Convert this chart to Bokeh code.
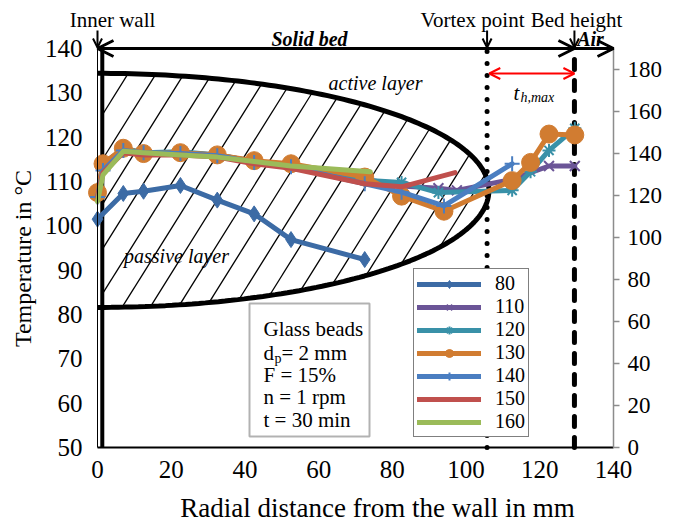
import numpy as np
from bokeh.plotting import figure
from bokeh.models import (Range1d, LinearAxis, FixedTicker, Legend, LegendItem,
                          Label, Arrow, OpenHead, BoxAnnotation)
from bokeh.embed import file_html
from bokeh.resources import INLINE

# ---------------- data ----------------
series_names = ["80", "110", "120", "130", "140", "150", "160"]
x_80 = [0, 7, 12.5, 22.5, 32.5, 42.5, 52.5, 72.5]
t_80 = [101.5, 107.3, 107.8, 109.1, 105.8, 102.7, 96.9, 92.4]
x_110 = [0, 1.5, 7, 12.5, 22.5, 32.5, 42.5, 52.5, 72.5, 82.5, 92.5, 97.5, 112.5, 122.5, 129.5]
t_110 = [107.5, 114.0, 117.3, 116.3, 116.5, 116.0, 114.5, 113.5, 110.5, 109.0, 108.5, 108.0, 110.5, 113.5, 113.5]
x_120 = [0, 1.5, 7, 12.5, 22.5, 32.5, 42.5, 52.5, 72.5, 82.5, 92.5, 112.5, 117.5, 122.5, 129.5]
t_120 = [107.0, 113.5, 117.5, 116.5, 116.7, 116.0, 114.5, 113.5, 110.3, 109.8, 107.5, 108.0, 112.2, 117.0, 122.0]
x_130 = [0, 1.5, 7, 12.5, 22.5, 32.5, 42.5, 52.5, 72.5, 82.5, 94, 112.5, 117.5, 122.5, 129.5]
t_130 = [107.5, 114.0, 117.5, 116.3, 116.5, 116.0, 114.7, 114.0, 111.0, 106.7, 103.3, 110.2, 114.3, 120.7, 120.5]
x_140 = [0, 1.5, 7, 12.5, 22.5, 32.5, 42.5, 52.5, 72.5, 82.5, 94, 112.5]
t_140 = [106.5, 112.5, 117.0, 116.5, 116.3, 115.8, 114.3, 113.3, 109.5, 107.6, 104.5, 114.0]
x_150 = [0, 1.5, 7, 12.5, 22.5, 32.5, 42.5, 52.5, 72.5, 82.5, 97]
t_150 = [106.5, 112.0, 116.5, 116.0, 116.0, 115.5, 114.0, 113.0, 109.5, 108.8, 112.0]
x_160 = [0, 1.5, 7, 12.5, 22.5, 32.5, 42.5, 52.5, 74]
t_160 = [105.5, 111.5, 116.8, 116.5, 116.0, 115.5, 114.5, 113.5, 112.2]

x_ticks = [0, 20, 40, 60, 80, 100, 120, 140]
y_ticks = [50, 60, 70, 80, 90, 100, 110, 120, 130, 140]
y2_ticks = [0, 20, 40, 60, 80, 100, 120, 140, 160, 180]

# landmarks (mm / degC)
vortex_x = 105.7
bed_x = 129.4
wall_x = 1.3
ell_cx, ell_cy, ell_a, ell_b = 0.0, 108.0, 106.2, 26.4

FONT = "Liberation Serif"
INK = "black"
W, H = 681, 521
L, R, T, B = 97, 613, 48, 447          # plot-area edges in pixels
sx = (R - L) / 140.0
sy = (B - T) / 90.0
y2_max = 190.0
sy2 = (B - T) / y2_max


def X(px):
    return (px - L) / sx


def Y(py):
    return 140 - (py - T) / sy


def Y2(py):
    return (B - py) / sy2


def label(px, py, text, size="21px", style="normal", align="left", **kw):
    p.add_layout(Label(x=X(px), y=Y(py), text=text, text_font=FONT, text_font_size=size,
                       text_font_style=style, text_align=align, text_baseline="middle",
                       text_color=INK, **kw))


# the frame covers the whole canvas; axes are pinned at the plot-area edges
p = figure(width=W, height=H, x_range=Range1d(X(0), X(W)), y_range=Range1d(Y(H), Y(0)),
           output_backend="svg", toolbar_location=None,
           min_border_left=0, min_border_right=0, min_border_top=0, min_border_bottom=0)
p.outline_line_color = None
p.xgrid.visible = False
p.ygrid.visible = False
p.background_fill_color = "white"
p.border_fill_color = "white"

p.extra_y_ranges = {"sec": Range1d(Y2(H), Y2(0))}

# axes
xa = p.xaxis[0]
xa.fixed_location = 50
xa.bounds = (0, 140)
xa.ticker = FixedTicker(ticks=x_ticks)
xa.axis_line_color = "black"
xa.axis_line_width = 2
xa.major_tick_line_color = None
xa.minor_tick_line_color = None
xa.major_label_text_font = FONT
xa.major_label_text_font_size = "25px"
xa.major_label_text_color = INK
xa.major_label_standoff = 7

ya = p.yaxis[0]
ya.fixed_location = 0
ya.bounds = (50, 140)
ya.ticker = FixedTicker(ticks=y_ticks)
ya.axis_line_color = "black"
ya.axis_line_width = 1
ya.major_tick_line_color = None
ya.minor_tick_line_color = None
ya.major_label_text_font = FONT
ya.major_label_text_font_size = "25px"
ya.major_label_text_color = INK
ya.major_label_standoff = 9

ya2 = LinearAxis(y_range_name="sec", ticker=FixedTicker(ticks=y2_ticks), bounds=(0, y2_max),
                 fixed_location=140)
ya2.axis_line_color = "#8c8c8c"
ya2.axis_line_width = 1.5
ya2.major_tick_line_color = "#8c8c8c"
ya2.major_tick_line_width = 1.5
ya2.major_tick_out = 6
ya2.major_tick_in = 0
ya2.minor_tick_line_color = None
ya2.major_label_text_font = FONT
ya2.major_label_text_font_size = "23px"
ya2.major_label_text_color = INK
ya2.major_label_standoff = 8
p.add_layout(ya2, "right")

# hatching inside the half-ellipse
dxd, dyd = 1.0 / sx, 1.6 / sy
spacing = 28.0 / sx
hx0, hy0, hx1, hy1 = [], [], [], []
for k in range(-14, 16):
    x0 = 26.5 + k * spacing
    a = dxd ** 2 / ell_a ** 2 + dyd ** 2 / ell_b ** 2
    b = 2 * (x0 - ell_cx) * dxd / ell_a ** 2
    c = (x0 - ell_cx) ** 2 / ell_a ** 2 - 1
    disc = b * b - 4 * a * c
    if disc <= 0:
        continue
    s1 = (-b - np.sqrt(disc)) / (2 * a)
    s2 = (-b + np.sqrt(disc)) / (2 * a)
    xa0, ya0 = x0 + s1 * dxd, ell_cy + s1 * dyd
    xa1, ya1 = x0 + s2 * dxd, ell_cy + s2 * dyd
    if xa1 <= wall_x:
        continue
    if xa0 < wall_x:      # clip at the inner wall
        t = (wall_x - xa0) / (xa1 - xa0)
        ya0 = ya0 + t * (ya1 - ya0)
        xa0 = wall_x
    hx0.append(xa0); hy0.append(ya0); hx1.append(xa1); hy1.append(ya1)
p.segment(hx0, hy0, hx1, hy1, line_color="black", line_width=1.3)

# half ellipse (right half only)
th = np.linspace(-np.pi / 2, np.pi / 2, 181)
p.line(ell_cx + ell_a * np.cos(th), ell_cy + ell_b * np.sin(th), line_color="black", line_width=5)

# wall / vortex / bed height lines
p.line([wall_x, wall_x], [50, 140], line_color="black", line_width=4)
p.line([vortex_x, vortex_x], [50, 140], line_color="black", line_width=5,
       line_dash="0 12", line_cap="round")
p.line([bed_x, bed_x], [50, 140], line_color="black", line_width=5,
       line_dash="10 11", line_cap="round")

# data series
colors = ["#3c6ba5", "#6b5597", "#3991a8", "#d17c31", "#4a7ec1", "#c0504d", "#9bbb59"]
xs = [x_80, x_110, x_120, x_130, x_140, x_150, x_160]
ts = [t_80, t_110, t_120, t_130, t_140, t_150, t_160]
markers = ["diamond", "x", "asterisk", "circle", "cross", None, None]
msizes = [16, 14, 13, 18, 15, 0, 0]
items = []
for name, xv, tv, col, mk, ms in zip(series_names, xs, ts, colors, markers, msizes):
    rends = [p.line(xv, tv, line_color=col, line_width=5, line_join="round", line_cap="round")]
    if mk is not None:
        if mk in ("diamond", "circle"):
            rends.append(p.scatter(xv, tv, marker=mk, size=ms, fill_color=col, line_color=col))
        else:
            rends.append(p.scatter(xv, tv, marker=mk, size=ms, line_color=col, line_width=2))
    items.append(LegendItem(label=name, renderers=rends))

legend = Legend(items=items, location=(413, H - 437))
legend.border_line_color = "black"
legend.border_line_width = 1.5
legend.background_fill_color = "white"
legend.background_fill_alpha = 1
legend.padding = 3
legend.spacing = 0
legend.margin = 0
legend.glyph_width = 64
legend.glyph_height = 20
legend.label_height = 20
legend.label_standoff = 14
legend.label_text_font = FONT
legend.label_text_font_size = "20px"
legend.label_text_color = INK
p.add_layout(legend)

# axis titles
label(377, 507, "Radial distance from the wall in mm", size="27px", align="center")
label(22, 258, "Temperature in °C", size="24px", align="center", angle=np.pi / 2)

# text box
p.add_layout(BoxAnnotation(left=X(249), right=X(369), top=Y(303), bottom=Y(436),
                           fill_color="white", fill_alpha=1, line_color="black", line_width=2))
label(263, 328, "Glass beads")
label(263, 352, "d")
p.add_layout(Label(x=X(263), y=Y(352), x_offset=11, y_offset=-6, text="p", text_font=FONT,
                   text_font_size="14px", text_baseline="middle", text_color=INK))
p.add_layout(Label(x=X(263), y=Y(352), x_offset=18, text="= 2 mm", text_font=FONT,
                   text_font_size="21px", text_baseline="middle", text_color=INK))
label(263, 374, "F = 15%")
label(263, 396, "n = 1 rpm")
label(263, 419, "t = 30 min")

# layer labels
label(375, 82, "active layer", size="20px", style="italic", align="center")
label(176, 255, "passive layer", size="20px", style="italic", align="center")

# top arrows
p.add_layout(Arrow(x_start=0, y_start=140, x_end=bed_x, y_end=140, line_width=3, line_color="black",
                   start=OpenHead(size=16, line_width=3, line_color="black"),
                   end=OpenHead(size=16, line_width=3, line_color="black")))
p.add_layout(Arrow(x_start=bed_x, y_start=140, x_end=140, y_end=140, line_width=3, line_color="black",
                   end=OpenHead(size=16, line_width=3, line_color="black"), start=None))
for xx in (0, vortex_x, bed_x):
    p.add_layout(Arrow(x_start=xx, y_start=Y(30), x_end=xx, y_end=Y(47), line_width=2, line_color="black",
                       end=OpenHead(size=9, line_width=2, line_color="black"), start=None))

# red t_h,max arrow
p.add_layout(Arrow(x_start=vortex_x + 0.6, y_start=Y(73), x_end=bed_x, y_end=Y(73), line_width=2,
                   line_color="red",
                   start=OpenHead(size=11, line_width=2, line_color="red"),
                   end=OpenHead(size=11, line_width=2, line_color="red")))
label(513, 92, "t", size="21px", style="italic")
label(520, 97, "h,max", size="14px", style="italic")

# top labels
label(112, 19, "Inner wall", align="center")
label(472, 19, "Vortex point", align="center")
label(576, 19, "Bed height", align="center")
label(309, 38, "Solid bed", size="20px", style="bold italic", align="center")
label(590, 38, "Air", size="20px", style="bold italic", align="center")

open("out.html", "w").write(file_html(p, INLINE))
